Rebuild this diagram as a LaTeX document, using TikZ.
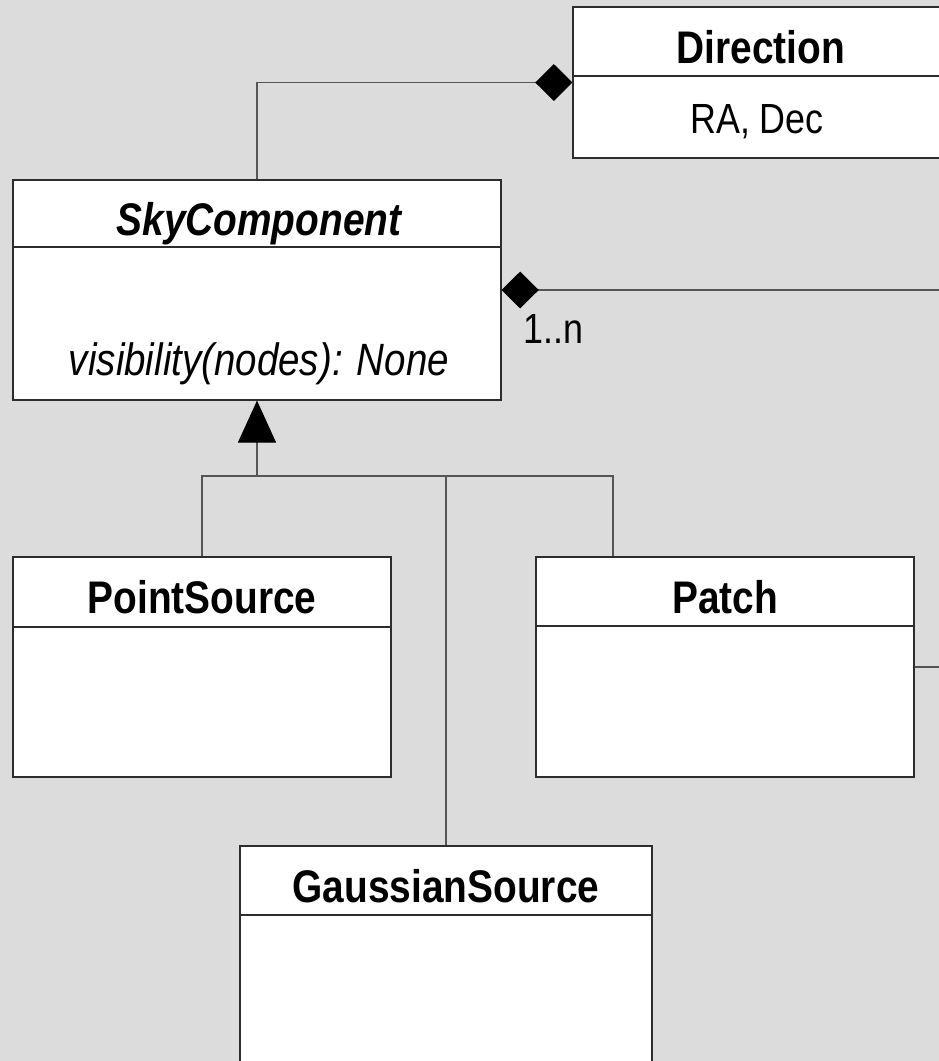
\documentclass[tikz,border=0pt]{standalone}
\usepackage{fontspec}
\setmainfont[FakeStretch=0.85]{Liberation Sans}
\usetikzlibrary{arrows.meta,fit}

\definecolor{bggray}{RGB}{220,220,220}
\definecolor{linegray}{RGB}{85,85,85}
\definecolor{boxgray}{RGB}{45,45,45}

\tikzset{
    classbox/.style={draw=boxgray, fill=white, line width=0.8pt, inner sep=0pt},
    classname/.style={anchor=base, inner sep=0pt, font=\fontsize{32.5}{36}\selectfont\bfseries},
    classbody/.style={anchor=base, inner sep=0pt, font=\fontsize{30}{34}\selectfont},
    link/.style={draw=linegray, line width=0.8pt},
    composition/.style={link, -{Diamond[length=0.93cm, width=0.92cm, color=black, fill=black]}},
    generalization/.style={link, -{Triangle[length=1.05cm, width=0.95cm, color=black, fill=black]}},
}

\begin{document}
\begin{tikzpicture}[x=0.025cm, y=-0.025cm]
        \useasboundingbox (0,0) rectangle (939,1061);
        \clip (0,0) rectangle (939,1061);
        \fill[bggray] (0,0) rectangle (939,1061);
        \coordinate (eastEdge) at (960,0);

        % Direction
        \node[classbox, fit={(573,7) (949,158)}] (direction) {};
        \draw[boxgray, line width=0.8pt] (573,76) -- (949,76);
        \node[classname] (directionName) at (761,63) {Direction};
        \node[classbody] (directionAttr) at (757,133) {RA, Dec};

        % SkyComponent
        \node[classbox, fit={(13,180) (501,400)}] (sky) {};
        \draw[boxgray, line width=0.8pt] (13,247) -- (501,247);
        \node[classname, font=\fontsize{32.5}{36}\selectfont\bfseries\itshape] (skyName) at (259,235) {SkyComponent};
        \node[classbody, font=\fontsize{32.2}{36}\selectfont\itshape] (skyOp) at (259,375) {visibility(nodes): None};

        % PointSource
        \node[classbox, fit={(13,557) (391,777)}] (pointSource) {};
        \draw[boxgray, line width=0.8pt] (13,627) -- (391,627);
        \node[classname] (pointSourceName) at (202,613) {PointSource};

        % Patch
        \node[classbox, fit={(536,557) (914,777)}] (patch) {};
        \draw[boxgray, line width=0.8pt] (536,626) -- (914,626);
        \node[classname] (patchName) at (725,613) {Patch};

        % GaussianSource
        \node[classbox, fit={(240,846) (652,1080)}] (gaussian) {};
        \draw[boxgray, line width=0.8pt] (240,915) -- (652,915);
        \node[classname] (gaussianName) at (446,902) {GaussianSource};

        % associations
        \draw[composition] (sky.north) |- (direction.west);
        \draw[composition] (sky.east -| eastEdge) -- (sky.east);
        \node[classbody, anchor=base west] (skyMult) at (523,343) {1..n};
        \draw[link] (patch.east) -- (patch.east -| eastEdge);

        % inheritance
        \coordinate (fork) at (257,476);
        \draw[generalization] (fork) -- (sky.south);
        \draw[link] (pointSource.north) |- (fork) -- (fork -| gaussian.north) -- (gaussian.north);
        \draw[link] (fork -| gaussian.north) -| ([xshift=-2.8cm]patch.north);
    \end{tikzpicture}
\end{document}
